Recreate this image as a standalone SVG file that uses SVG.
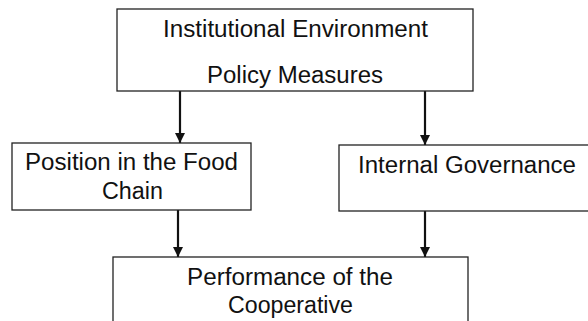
<svg xmlns="http://www.w3.org/2000/svg" width="588" height="321" viewBox="0 0 588 321">
<defs>
<style>
.box{fill:#fff;stroke:#222;stroke-width:1.3}
.t{font-family:"Liberation Sans",Arial,sans-serif;font-size:23px;fill:#111}
.c{stroke:#111;stroke-width:2.2;fill:none;marker-end:url(#ah)}
</style>
<marker id="ah" viewBox="0 0 10 10" refX="10" refY="5" markerUnits="userSpaceOnUse" markerWidth="10" markerHeight="10" orient="auto">
<path d="M0,0 L10,5 L0,10 Z" fill="#111"/>
</marker>
</defs>
<rect width="588" height="321" fill="#fff"/>
<g id="connectors">
<line class="c" x1="180" y1="91" x2="180" y2="143"/>
<line class="c" x1="425" y1="91" x2="425" y2="145"/>
<line class="c" x1="178" y1="210" x2="178" y2="257"/>
<line class="c" x1="425" y1="211" x2="425" y2="257"/>
</g>
<g id="institutional">
<rect class="box" x="117" y="9" width="356" height="82"/>
<text class="t" x="163" y="37" textLength="265" lengthAdjust="spacingAndGlyphs">Institutional Environment</text>
<text class="t" x="207" y="83" textLength="176" lengthAdjust="spacingAndGlyphs">Policy Measures</text>
</g>
<g id="position">
<rect class="box" x="12" y="143" width="239" height="67"/>
<text class="t" x="25" y="170" textLength="213" lengthAdjust="spacingAndGlyphs">Position in the Food</text>
<text class="t" x="102" y="199" textLength="61" lengthAdjust="spacingAndGlyphs">Chain</text>
</g>
<g id="governance">
<rect class="box" x="339" y="145" width="260" height="66"/>
<text class="t" x="358" y="173" textLength="218" lengthAdjust="spacingAndGlyphs">Internal Governance</text>
</g>
<g id="performance">
<rect class="box" x="113" y="257" width="355" height="80"/>
<text class="t" x="187" y="285" textLength="206" lengthAdjust="spacingAndGlyphs">Performance of the</text>
<text class="t" x="228" y="313" textLength="125" lengthAdjust="spacingAndGlyphs">Cooperative</text>
</g>
</svg>
